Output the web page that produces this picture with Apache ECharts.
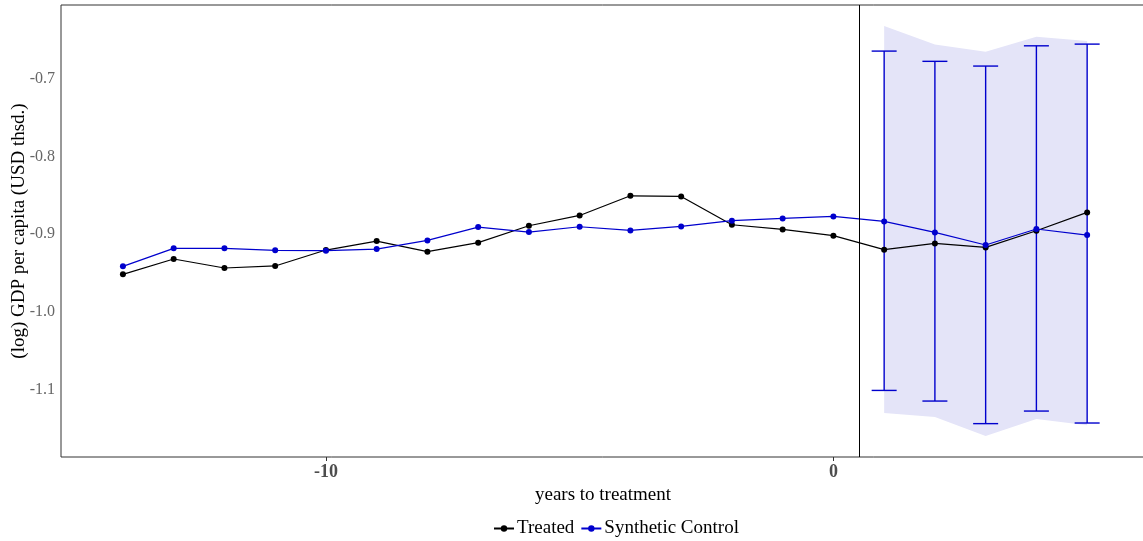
<!DOCTYPE html>
<html>
<head>
<meta charset="utf-8">
<script src="https://cdn.jsdelivr.net/npm/echarts@6/dist/echarts.min.js"></script>
<style>
html,body{margin:0;padding:0;background:#fff;}
#chart{width:1143px;height:541px;}
</style>
</head>
<body>
<div id="chart"></div>
<script>
// ---- data ----
const years = [-14,-13,-12,-11,-10,-9,-8,-7,-6,-5,-4,-3,-2,-1,0,1,2,3,4,5];
const treated = [-0.9517,-0.9319,-0.9435,-0.9409,-0.9204,-0.9088,-0.9225,-0.9109,-0.8891,-0.8758,-0.8505,-0.8513,-0.8878,-0.8938,-0.9019,-0.9199,-0.9118,-0.9170,-0.8955,-0.8719];
const synthetic = [-0.9414,-0.9182,-0.9182,-0.9208,-0.9212,-0.9191,-0.9080,-0.8908,-0.8972,-0.8904,-0.8951,-0.8899,-0.8826,-0.8797,-0.8771,-0.8835,-0.8977,-0.9139,-0.8933,-0.9011];
const postYears = [1,2,3,4,5];
const errLow  = [-1.1013,-1.1150,-1.1441,-1.1279,-1.1433];
const errHigh = [-0.6640,-0.6772,-0.6833,-0.6572,-0.6550];
const bandLow  = [-1.1305,-1.1356,-1.1600,-1.1382,-1.1463];
const bandHigh = [-0.6318,-0.6554,-0.6649,-0.6456,-0.6511];
const treatmentLine = 0.5;
const xTicks = [-10, 0];
const yTicks = [-1.1, -1.0, -0.9, -0.8, -0.7];

const BLUE = '#0000CD';
const FONT = 'Liberation Serif';

const chart = echarts.init(document.getElementById('chart'), null, {renderer:'canvas'});

const errData = postYears.map((x,i)=>[x, errLow[i], errHigh[i]]);
const bandData = postYears.map((x,i)=>[x, bandLow[i], bandHigh[i]]);

chart.setOption({
  animation: false,
  backgroundColor: '#fff',
  grid: {left: 61, right: -2, top: 5, bottom: 84, outerBoundsMode: 'none', containLabel: false,
         show: true, borderColor: '#333', borderWidth: 1, backgroundColor: 'transparent'},
  xAxis: {
    type: 'value', min: -15.22, max: 6.14,
    name: 'years to treatment', nameLocation: 'middle', nameGap: 29, nameMoveOverlap: false,
    nameTextStyle: {fontFamily: FONT, fontSize: 19, color: '#000'},
    axisLine: {show: false},
    splitLine: {show: false},
    axisTick: {show: true, customValues: xTicks, length: 4, lineStyle: {color: '#333'}},
    axisLabel: {customValues: xTicks, fontFamily: FONT, fontSize: 18, fontWeight: 'bold', color: '#4d4d4d', margin: 6},
  },
  yAxis: {
    type: 'value', min: -1.1871, max: -0.6046,
    name: '(log) GDP per capita (USD thsd.)', nameLocation: 'middle', nameGap: 32, nameMoveOverlap: false,
    nameTextStyle: {fontFamily: FONT, fontSize: 19, color: '#000'},
    axisLine: {show: false},
    splitLine: {show: false},
    axisTick: {show: false, customValues: yTicks},
    axisLabel: {customValues: yTicks, formatter: v => v.toFixed(1), fontFamily: FONT, fontSize: 16, color: '#666', margin: 6},
  },
  legend: {
    left: 488, top: 514,
    itemWidth: 20, itemHeight: 8, itemGap: 6,
    textStyle: {fontFamily: FONT, fontSize: 19, color: '#000', padding: [0,0,0,-2]},
    data: ['Treated', 'Synthetic Control']
  },
  series: [
    {
      type: 'custom', name: 'band', silent: true, z: 1,
      data: bandData,
      encode: {x: 0, y: [1,2]},
      renderItem: function(params, api){
        if (params.dataIndex !== 0) return null;
        const pts = [];
        for (let i=0;i<postYears.length;i++) pts.push(api.coord([postYears[i], bandHigh[i]]));
        for (let i=postYears.length-1;i>=0;i--) pts.push(api.coord([postYears[i], bandLow[i]]));
        return {type:'polygon', shape:{points: pts}, style:{fill:'#E4E4F8', stroke:'none'}};
      }
    },
    {
      type: 'custom', name: 'errors', silent: true, z: 2,
      data: errData,
      encode: {x: 0, y: [1,2]},
      renderItem: function(params, api){
        const x = api.value(0);
        const lo = api.coord([x, api.value(1)]);
        const hi = api.coord([x, api.value(2)]);
        const w = 12.5;
        const st = {stroke: BLUE, lineWidth: 1.4};
        return {type:'group', children:[
          {type:'line', shape:{x1:lo[0], y1:lo[1], x2:hi[0], y2:hi[1]}, style: st},
          {type:'line', shape:{x1:lo[0]-w, y1:lo[1], x2:lo[0]+w, y2:lo[1]}, style: st},
          {type:'line', shape:{x1:hi[0]-w, y1:hi[1], x2:hi[0]+w, y2:hi[1]}, style: st}
        ]};
      }
    },
    {
      type: 'line', name: 'Treated', z: 3,
      data: years.map((x,i)=>[x, treated[i]]),
      symbol: 'circle', symbolSize: 6,
      itemStyle: {color: '#000'},
      lineStyle: {color: '#000', width: 1.2},
      markLine: {
        silent: true, symbol: ['none','none'], label: {show: false},
        lineStyle: {color: '#000', width: 1, type: 'solid'},
        data: [{xAxis: treatmentLine}]
      }
    },
    {
      type: 'line', name: 'Synthetic Control', z: 4,
      data: years.map((x,i)=>[x, synthetic[i]]),
      symbol: 'circle', symbolSize: 6,
      itemStyle: {color: BLUE},
      lineStyle: {color: BLUE, width: 1.2}
    }
  ]
});
</script>
</body>
</html>
